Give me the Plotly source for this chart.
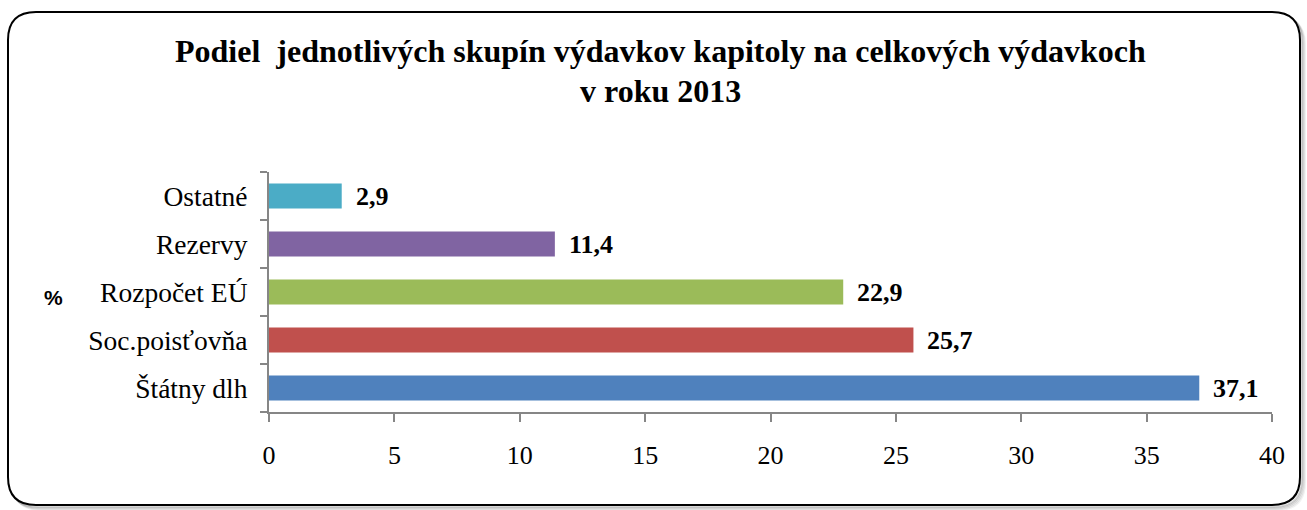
import plotly.graph_objects as go

# Expenditure shares by group, 2013 (%)
categories = ["Štátny dlh", "Soc.poisťovňa", "Rozpočet EÚ", "Rezervy", "Ostatné"]
shares = [37.1, 25.7, 22.9, 11.4, 2.9]
bar_colors = ["#4F81BD", "#C0504D", "#9BBB59", "#8064A2", "#4BACC6"]
x_ticks = [0, 5, 10, 15, 20, 25, 30, 35, 40]

title_lines = ["Podiel\u00a0 jednotlivých skupín výdavkov kapitoly na celkových výdavkoch",
               "v roku 2013"]

W_PX, H_PX = 1307, 510
M_L, M_R, M_T, M_B = 269, 35, 172, 98
PW = W_PX - M_L - M_R
PH = H_PX - M_T - M_B


def px_x(px):
    return (px - M_L) / PW


def px_y(py):
    return (H_PX - M_B - py) / PH


def rounded_rect(x0, y0, x1, y1, r):
    pts = [
        f"M {px_x(x0 + r)},{px_y(y0)}",
        f"L {px_x(x1 - r)},{px_y(y0)}",
        f"Q {px_x(x1)},{px_y(y0)} {px_x(x1)},{px_y(y0 + r)}",
        f"L {px_x(x1)},{px_y(y1 - r)}",
        f"Q {px_x(x1)},{px_y(y1)} {px_x(x1 - r)},{px_y(y1)}",
        f"L {px_x(x0 + r)},{px_y(y1)}",
        f"Q {px_x(x0)},{px_y(y1)} {px_x(x0)},{px_y(y1 - r)}",
        f"L {px_x(x0)},{px_y(y0 + r)}",
        f"Q {px_x(x0)},{px_y(y0)} {px_x(x0 + r)},{px_y(y0)}",
        "Z",
    ]
    return " ".join(pts)


serif = "Liberation Serif, Times New Roman, serif"

fig = go.Figure(
    go.Bar(
        x=shares,
        y=categories,
        orientation="h",
        marker=dict(color=bar_colors, line=dict(width=0)),
        hoverinfo="skip",
    )
)

# value labels next to each bar end
annotations = []
for cat, val in zip(categories, shares):
    annotations.append(dict(
        x=val, y=cat, xref="x", yref="y",
        text=f"<b>{val:.1f}</b>".replace(".", ","),
        showarrow=False, xanchor="left", yanchor="middle", xshift=12,
        font=dict(family=serif, size=26, color="#000000"),
    ))

# title lines
for i, line in enumerate(title_lines):
    annotations.append(dict(
        x=px_x(660), y=px_y(51 + 40 * i), xref="paper", yref="paper",
        text=f"<b>{line}</b>", showarrow=False,
        xanchor="center", yanchor="middle",
        font=dict(family=serif, size=32, color="#000000"),
    ))

# axis unit label
annotations.append(dict(
    x=px_x(53), y=px_y(297), xref="paper", yref="paper",
    text="<b>%</b>", showarrow=False, xanchor="center", yanchor="middle",
    font=dict(family="Liberation Sans, Arial, sans-serif", size=21, color="#000000"),
))

shapes = []
# soft drop shadow around the frame
for k, op in [(5, 0.10), (4, 0.15), (3, 0.22), (2, 0.3)]:
    shapes.append(dict(
        type="path", xref="paper", yref="paper",
        path=rounded_rect(8 + k, 12 + k, 1300 + k, 505 + k, 28),
        line=dict(color=f"rgba(120,120,120,{op})", width=2),
        fillcolor="rgba(0,0,0,0)", layer="below",
    ))
shapes.append(dict(
    type="path", xref="paper", yref="paper",
    path=rounded_rect(8, 12, 1300, 505, 28),
    line=dict(color="#000000", width=2),
    fillcolor="#FFFFFF", layer="below",
))

fig.update_layout(
    width=W_PX, height=H_PX,
    margin=dict(l=M_L, r=M_R, t=M_T, b=M_B, pad=0),
    paper_bgcolor="#FFFFFF", plot_bgcolor="rgba(0,0,0,0)",
    showlegend=False,
    bargap=0.48,
    annotations=annotations,
    shapes=shapes,
    font=dict(family=serif, size=26, color="#000000"),
)

fig.update_xaxes(
    range=[0, 40], tickvals=x_ticks, ticktext=[str(v) for v in x_ticks],
    showgrid=False, zeroline=False,
    showline=True, linecolor="#868686", linewidth=2,
    ticks="outside", ticklen=8, tickwidth=2, tickcolor="#868686",
    tickfont=dict(family=serif, size=26, color="#000000"),
    ticklabelstandoff=11,
    fixedrange=True,
)
fig.update_yaxes(
    categoryorder="array", categoryarray=categories,
    showgrid=False, zeroline=False,
    showline=True, linecolor="#868686", linewidth=2,
    ticks="outside", ticklen=7, tickwidth=2, tickcolor="#868686",
    tickson="boundaries",
    tickfont=dict(family=serif, size=27.5, color="#000000"),
    ticklabelstandoff=14,
    fixedrange=True,
)

fig.write_html("out.html", config={"displayModeBar": False})
